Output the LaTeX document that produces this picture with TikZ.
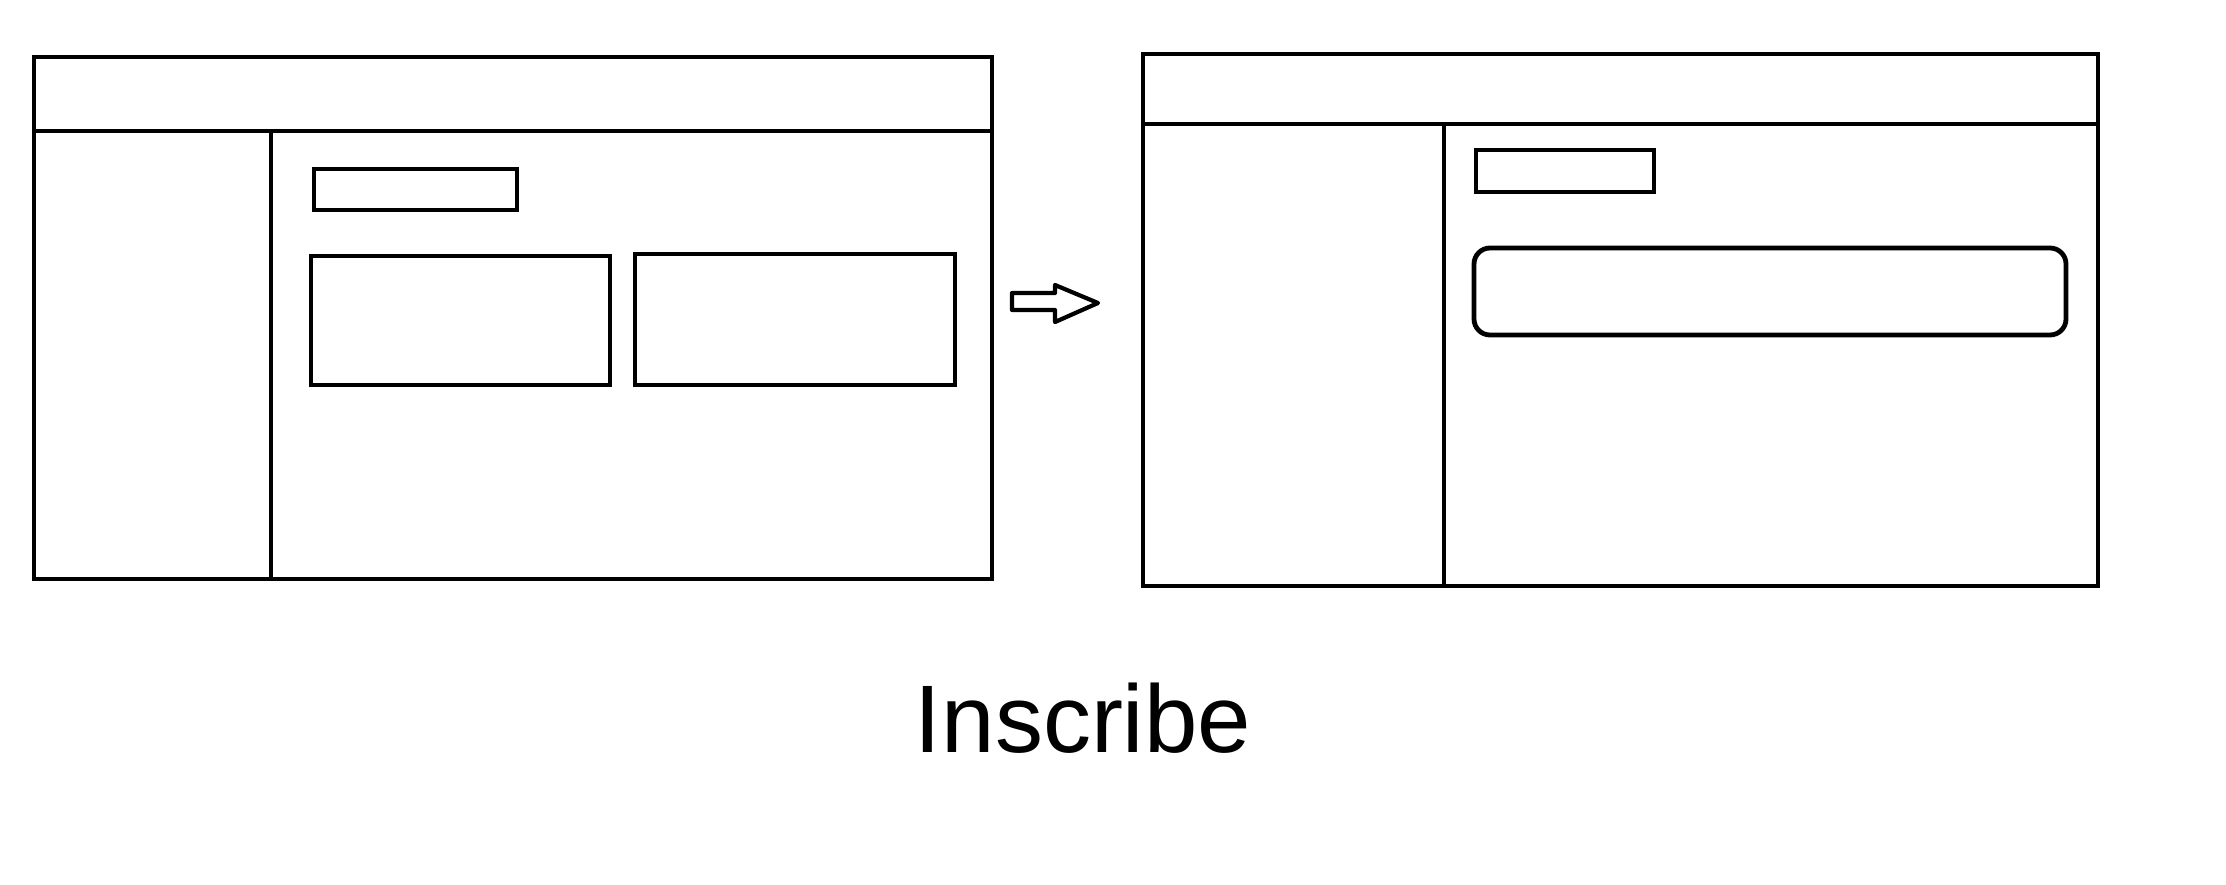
\documentclass[tikz,border=0pt]{standalone}
\usepackage{fontspec}
\setmainfont{Liberation Sans}
\begin{document}
\begin{tikzpicture}[x=0.5pt,y=-0.5pt,
  box/.style={draw=black,line width=2.4pt,inner sep=0pt,outer sep=0pt,rectangle},
  ln/.style={draw=black,line width=2.4pt}]
\useasboundingbox (0,0) rectangle (2226,884);
% left window
\node[box,minimum width=479pt,minimum height=261pt] (L) at (513,318) {};
\coordinate (Lh1) at (34,131);
\coordinate (Lh2) at (992,131);
\coordinate (Ls1) at (271,131);
\coordinate (Ls2) at (271,579);
\draw[ln] (Lh1) -- (Lh2);
\draw[ln] (Ls1) -- (Ls2);
\node[box,minimum width=101.5pt,minimum height=20.5pt] (Lsmall) at (415.5,189.5) {};
\node[box,minimum width=149.5pt,minimum height=64.5pt] (La) at (460.5,320.5) {};
\node[box,minimum width=160pt,minimum height=65.5pt] (Lb) at (795,319.5) {};
% arrow
\draw[ln,line width=2.1pt,line join=round] (1012,293) -- (1055,293) -- (1055,285) -- (1098,303) -- (1055,322) -- (1055,310) -- (1012,310) -- cycle;
% right window
\node[box,minimum width=477.5pt,minimum height=266pt] (R) at (1620.5,320) {};
\coordinate (Rh1) at (1141,124);
\coordinate (Rh2) at (2098,124);
\coordinate (Rs1) at (1444,124);
\coordinate (Rs2) at (1444,586);
\draw[ln] (Rh1) -- (Rh2);
\draw[ln] (Rs1) -- (Rs2);
\node[box,minimum width=89pt,minimum height=21pt] (Rsmall) at (1565,171) {};
\node[box,rounded corners=8pt,minimum width=296pt,minimum height=43.5pt] (Rr) at (1770,291.5) {};
% caption
\node[anchor=base,inner sep=0pt,font=\fontsize{48pt}{58pt}\selectfont] (cap) at (1083,752) {Inscribe};
\end{tikzpicture}
\end{document}
